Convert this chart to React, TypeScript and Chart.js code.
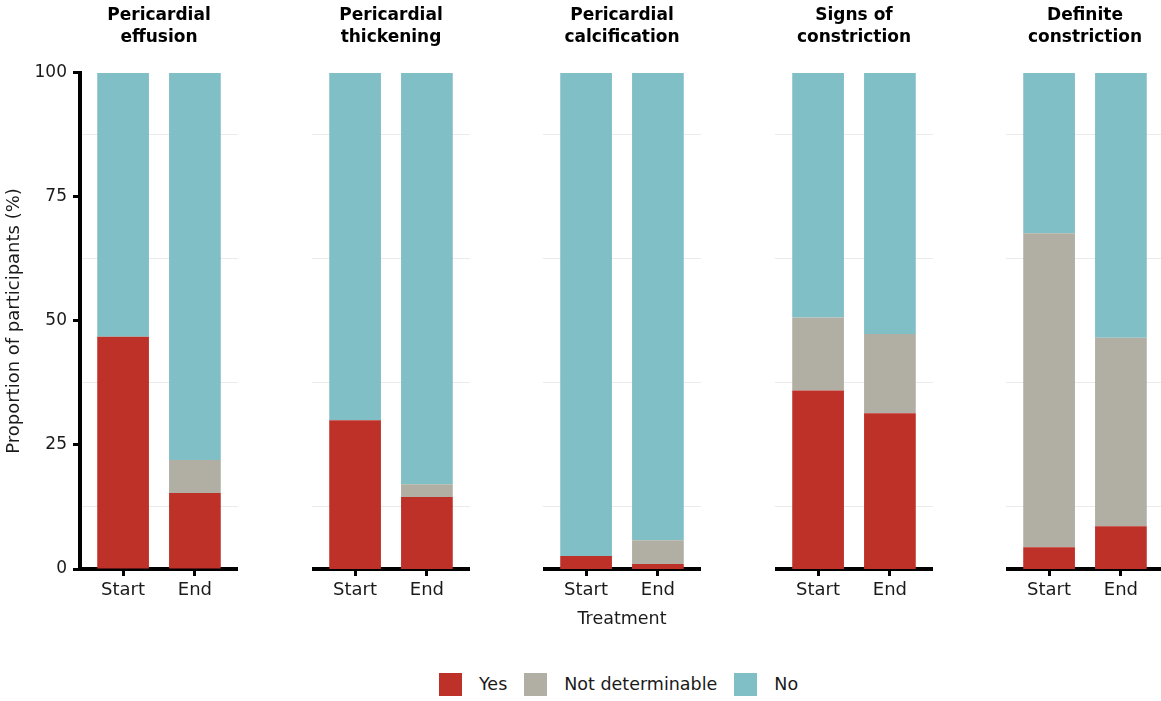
import React, { useEffect, useRef } from "react";
import { Chart, registerables } from "chart.js";

Chart.register(...registerables);

const panelTitles: string[][] = [
  ["Pericardial", "effusion"],
  ["Pericardial", "thickening"],
  ["Pericardial", "calcification"],
  ["Signs of", "constriction"],
  ["Definite", "constriction"],
];
const treatments = ["Start", "End"];
const responses = ["Yes", "Not determinable", "No"];
// per panel: [Start, End]
const yesValues = [
  [46.8, 15.3],
  [30.0, 14.5],
  [2.6, 1.0],
  [36.0, 31.4],
  [4.4, 8.6],
];
const notDeterminableValues = [
  [0, 6.7],
  [0, 2.6],
  [0, 4.8],
  [14.7, 16.0],
  [63.3, 38.0],
];
const noValues = [
  [53.2, 78.0],
  [70.0, 82.9],
  [97.4, 94.2],
  [49.3, 52.6],
  [32.3, 53.4],
];
const yTicks = [0, 25, 50, 75, 100];
const minorGridValues = [12.5, 37.5, 62.5, 87.5];
const responseColors = ["#BE3128", "#B1AFA3", "#80BFC6"];
const seriesByResponse = [yesValues, notDeterminableValues, noValues];

const FONT = "'DejaVu Sans', 'Liberation Sans', sans-serif";
const TEXT = "#1a1a1a";

const PANEL_LEFT0 = 80;
const PANEL_STEP = 231.5;
const PANEL_W = 158;
const CANVAS_H = 640;

function Panel({ index }: { index: number }) {
  const ref = useRef<HTMLCanvasElement | null>(null);
  const first = index === 0;
  const plotLeft = Math.round(PANEL_LEFT0 + index * PANEL_STEP);
  const canvasLeft = first ? 0 : plotLeft;
  const canvasW = first ? plotLeft + PANEL_W : PANEL_W;

  useEffect(() => {
    if (!ref.current) return;
    const chart = new Chart(ref.current, {
      type: "bar",
      data: {
        datasets: responses.map((r, k) => ({
          label: r,
          data: treatments.map((_, j) => ({ x: j, y: seriesByResponse[k][index][j] })),
          backgroundColor: responseColors[k],
          borderWidth: 0,
          barPercentage: 0.72,
          categoryPercentage: 1,
        })),
      },
      options: {
        animation: false,
        responsive: false,
        maintainAspectRatio: false,
        devicePixelRatio: 1,
        layout: { padding: 0 },
        plugins: {
          legend: { display: false },
          tooltip: { enabled: false },
          title: {
            display: true,
            text: panelTitles[index],
            fullSize: false,
            color: "#000",
            font: { family: FONT, size: 17, weight: "bold", lineHeight: 1.27 },
            padding: { top: 5, bottom: 24.8 },
          },
        },
        scales: {
          x: {
            type: "linear",
            min: -0.6,
            max: 1.6,
            stacked: true,
            offset: false,
            afterBuildTicks: (s: any) => {
              s.ticks = treatments.map((_, j) => ({ value: j }));
            },
            afterFit: (s: any) => {
              s.height = CANVAS_H - 569;
            },
            ticks: {
              callback: (v: any) => treatments[v] ?? "",
              font: { family: FONT, size: 18 },
              color: TEXT,
              padding: 4,
              maxRotation: 0,
              autoSkip: false,
            },
            grid: {
              offset: false,
              drawOnChartArea: false,
              drawTicks: true,
              tickLength: 7,
              tickWidth: 3,
              tickColor: "#000",
            },
            border: { display: true, color: "#000", width: 4 },
            title: {
              display: index === 2,
              text: "Treatment",
              color: TEXT,
              font: { family: FONT, size: 17.5 },
              padding: { top: 0, bottom: 10.5 },
            },
          },
          y: {
            type: "linear",
            min: 0,
            max: 100,
            stacked: true,
            display: first,
            position: "left",
            afterBuildTicks: (s: any) => {
              s.ticks = yTicks.map((v) => ({ value: v }));
            },
            afterFit: (s: any) => {
              s.width = first ? PANEL_LEFT0 : 0;
            },
            ticks: { font: { family: FONT, size: 17 }, color: TEXT, padding: 6 },
            grid: {
              drawOnChartArea: false,
              drawTicks: true,
              tickLength: 7,
              tickWidth: 3,
              tickColor: "#000",
            },
            border: { display: true, color: "#000", width: 4 },
            title: {
              display: true,
              text: "Proportion of participants (%)",
              color: TEXT,
              font: { family: FONT, size: 18 },
              padding: { top: 4, bottom: 0 },
            },
          },
          yGrid: {
            type: "linear",
            min: 0,
            max: 100,
            position: "left",
            display: true,
            afterBuildTicks: (s: any) => {
              s.ticks = minorGridValues.map((v) => ({ value: v }));
            },
            afterFit: (s: any) => {
              s.width = 0;
            },
            ticks: { display: false },
            grid: { color: "#EBEBEB", lineWidth: 1, drawTicks: false },
            border: { display: false },
          },
        },
      } as any,
    });
    return () => chart.destroy();
  }, [index]);

  return (
    <canvas
      ref={ref}
      width={canvasW}
      height={CANVAS_H}
      style={{ position: "absolute", left: canvasLeft, top: 0, width: canvasW, height: CANVAS_H }}
    />
  );
}

export default function App() {
  return (
    <div
      style={{
        position: "absolute",
        left: 0,
        top: 0,
        width: 1161,
        height: 701,
        overflow: "hidden",
        background: "#fff",
      }}
    >
      {panelTitles.map((_, i) => (
        <Panel key={i} index={i} />
      ))}
      <div
        style={{
          position: "absolute",
          left: 439,
          top: 673,
          display: "flex",
          alignItems: "center",
          fontFamily: FONT,
          fontSize: 17.5,
          color: TEXT,
          lineHeight: "23px",
          whiteSpace: "nowrap",
        }}
      >
        {responses.map((r, k) => (
          <div key={r} style={{ display: "flex", alignItems: "center", marginRight: 17 }}>
            <div style={{ width: 23, height: 23, background: responseColors[k], marginRight: 17 }} />
            <span>{r}</span>
          </div>
        ))}
      </div>
    </div>
  );
}
